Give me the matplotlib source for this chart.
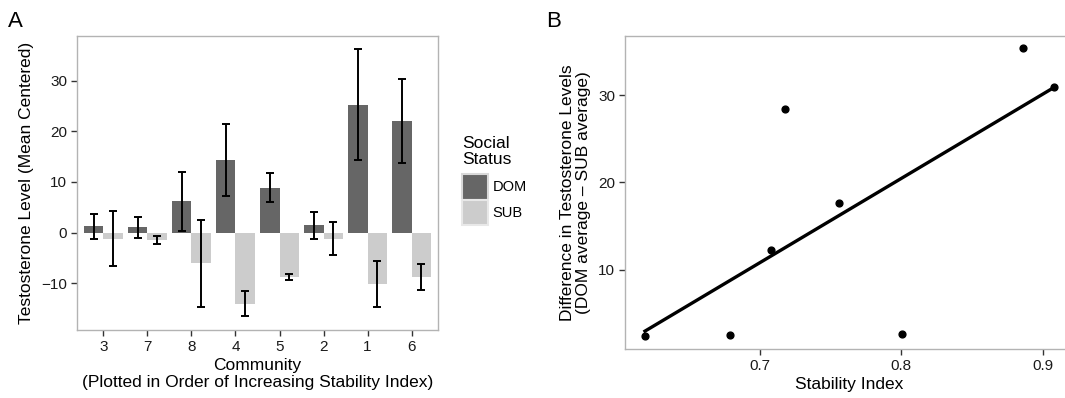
import matplotlib
matplotlib.use('Agg')
from matplotlib import pyplot as plt
from matplotlib.patches import Patch
import numpy as np

plt.rcParams['font.family'] = ['Liberation Sans', 'DejaVu Sans']

# communities in order of increasing stability index
communities = ['3', '7', '8', '4', '5', '2', '1', '6']
dom_mean = [1.2, 1.05, 6.2, 14.3, 8.9, 1.4, 25.3, 22.1]
dom_err = [2.5, 2.05, 5.85, 7.1, 2.95, 2.65, 11.0, 8.35]
sub_mean = [-1.2, -1.45, -6.1, -14.1, -8.8, -1.25, -10.1, -8.85]
sub_err = [5.4, 0.85, 8.6, 2.45, 0.55, 3.3, 4.55, 2.6]

stability = [0.6191, 0.6794, 0.7084, 0.7183, 0.7564, 0.8006, 0.8860, 0.9077]

dom_col = '#666666'
sub_col = '#cccccc'
border = '#b3b3b3'
W, H = 1065, 398

fig = plt.figure(figsize=(W / 100, H / 100), dpi=100)


def box(l, t, r, b):
    return [l / W, 1 - b / H, (r - l) / W, (b - t) / H]


def style_ax(ax):
    for s in ax.spines.values():
        s.set_color(border)
        s.set_linewidth(1.0)
    ax.tick_params(direction='out', length=4, width=1, color='#333333',
                   labelsize=11, labelcolor='#1a1a1a', pad=3)


# ---- panel A
axA = fig.add_axes(box(77, 36, 438, 330))
x = np.arange(len(communities))
bw = 0.45
axA.bar(x - bw / 2, dom_mean, bw, color=dom_col)
axA.bar(x + bw / 2, sub_mean, bw, color=sub_col)
axA.errorbar(x - bw / 2, dom_mean, yerr=dom_err, fmt='none', ecolor='black',
             elinewidth=1.4, capsize=2.8, capthick=1.4)
axA.errorbar(x + bw / 2, sub_mean, yerr=sub_err, fmt='none', ecolor='black',
             elinewidth=1.4, capsize=2.8, capthick=1.4)
axA.set_xticks(x)
axA.set_xticklabels(communities)
axA.set_xlim(-0.6, len(communities) - 0.4)
axA.set_ylim(-19.3, 38.9)
axA.set_yticks([-10, 0, 10, 20, 30])
style_ax(axA)
axA.set_ylabel('Testosterone Level (Mean Centered)', fontsize=12.5, labelpad=5)
axA.set_xlabel('Community\n(Plotted in Order of Increasing Stability Index)',
               fontsize=12.5, labelpad=3, linespacing=1.15)

handles = [Patch(facecolor=dom_col, edgecolor='#d9d9d9', linewidth=1.5),
           Patch(facecolor=sub_col, edgecolor='#e8e8e8', linewidth=1.5)]
leg = fig.legend(handles, ['DOM', 'SUB'], title='Social\nStatus',
                 loc='upper left', bbox_to_anchor=(462 / W, 1 - 136 / H),
                 frameon=False, fontsize=10.5, title_fontsize=12.5,
                 handlelength=1.75, handleheight=2.3, labelspacing=0.0,
                 handletextpad=0.35, borderpad=0, borderaxespad=0)
leg._legend_box.align = 'left'
leg._legend_box.sep = 5
leg.get_title().set_linespacing(1.1)

# ---- panel B
diff = np.array(dom_mean) - np.array(sub_mean)
axB = fig.add_axes(box(625, 36, 1074, 349))
axB.scatter(stability, diff, s=24, color='black', zorder=3)
k, c = np.polyfit(stability, diff, 1)
xs = np.array([min(stability), max(stability)])
axB.plot(xs, k * xs + c, color='black', linewidth=2.4)
axB.set_xlim(0.605, 0.922)
axB.set_ylim(0.9, 36.8)
axB.set_xticks([0.7, 0.8, 0.9])
axB.set_yticks([10, 20, 30])
style_ax(axB)
axB.set_xlabel('Stability Index', fontsize=12.5, labelpad=3)
axB.set_ylabel('Difference in Testosterone Levels\n(DOM average \u2013 SUB average)',
               fontsize=12.5, labelpad=5, linespacing=1.1)

fig.text(8 / W, 1 - 27 / H, 'A', fontsize=16)
fig.text(546 / W, 1 - 27 / H, 'B', fontsize=16)

fig.savefig('out.png', dpi=100)
